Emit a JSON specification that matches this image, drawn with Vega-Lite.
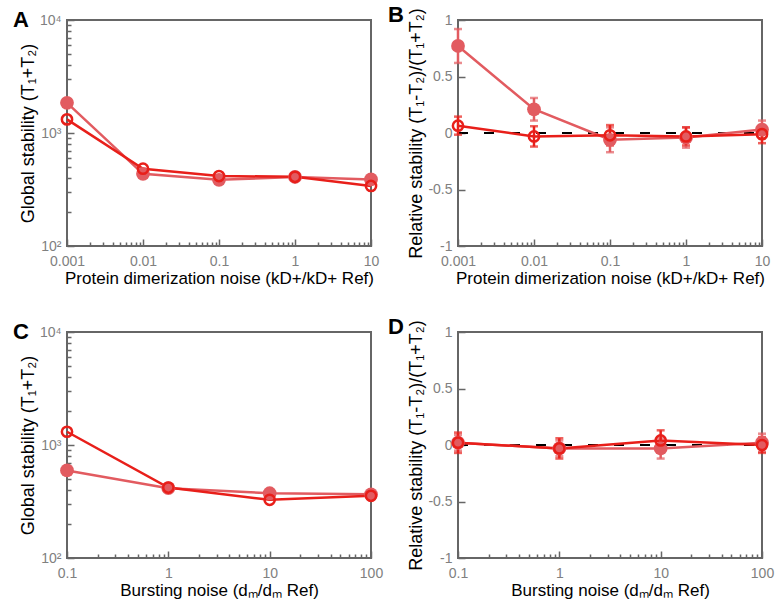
{
  "$schema": "https://vega.github.io/schema/vega-lite/v6.json",
  "background": "white",
  "padding": {"left": 12, "top": 2, "right": 0, "bottom": 0},
  "columns": 2,
  "spacing": {"row": 27, "column": 3},
  "datasets": {
    "A": [
      {"x": 0.001, "s": "filled", "y": 1850}, {"x": 0.01, "s": "filled", "y": 435}, {"x": 0.1, "s": "filled", "y": 385}, {"x": 1, "s": "filled", "y": 408}, {"x": 10, "s": "filled", "y": 388},
      {"x": 0.001, "s": "open", "y": 1320}, {"x": 0.01, "s": "open", "y": 483}, {"x": 0.1, "s": "open", "y": 416}, {"x": 1, "s": "open", "y": 410}, {"x": 10, "s": "open", "y": 340}
    ],
    "B": [
      {"x": 0.001, "s": "filled", "y": 0.77, "e": 0.15}, {"x": 0.01, "s": "filled", "y": 0.21, "e": 0.1}, {"x": 0.1, "s": "filled", "y": -0.06, "e": 0.11}, {"x": 1, "s": "filled", "y": -0.04, "e": 0.09}, {"x": 10, "s": "filled", "y": 0.03, "e": 0.08},
      {"x": 0.001, "s": "open", "y": 0.065, "e": 0.08}, {"x": 0.01, "s": "open", "y": -0.03, "e": 0.09}, {"x": 0.1, "s": "open", "y": -0.02, "e": 0.09}, {"x": 1, "s": "open", "y": -0.03, "e": 0.08}, {"x": 10, "s": "open", "y": -0.01, "e": 0.08}
    ],
    "C": [
      {"x": 0.1, "s": "filled", "y": 595}, {"x": 1, "s": "filled", "y": 415}, {"x": 10, "s": "filled", "y": 374}, {"x": 100, "s": "filled", "y": 366},
      {"x": 0.1, "s": "open", "y": 1310}, {"x": 1, "s": "open", "y": 420}, {"x": 10, "s": "open", "y": 327}, {"x": 100, "s": "open", "y": 355}
    ],
    "D": [
      {"x": 0.1, "s": "filled", "y": 0.02, "e": 0.07}, {"x": 1, "s": "filled", "y": -0.03, "e": 0.07}, {"x": 10, "s": "filled", "y": -0.03, "e": 0.09}, {"x": 100, "s": "filled", "y": 0.02, "e": 0.08},
      {"x": 0.1, "s": "open", "y": 0.02, "e": 0.09}, {"x": 1, "s": "open", "y": -0.03, "e": 0.09}, {"x": 10, "s": "open", "y": 0.04, "e": 0.09}, {"x": 100, "s": "open", "y": 0.0, "e": 0.07}
    ]
  },
  "concat": [
    {
      "width": 304, "height": 226,
      "title": {"text": "A", "anchor": "start", "frame": "group", "dx": -54, "offset": -19},
      "data": {"name": "A"},
      "resolve": {"axis": {"x": "independent", "y": "independent"}},
      "layer": [
        {
          "encoding": {
            "x": {"field": "x", "type": "quantitative", "scale": {"type": "log", "domain": [0.001, 10], "nice": false},
              "axis": {"orient": "bottom", "values": [0.001, 0.01, 0.1, 1, 10], "labelExpr": "'' + datum.value", "tickSize": -7, "labelPadding": 15, "title": "Protein dimerization noise (kD+/kD+ Ref)"}},
            "y": {"field": "y", "type": "quantitative", "scale": {"type": "log", "domain": [100, 10000], "nice": false},
              "axis": {"orient": "left", "values": [100, 1000, 10000], "labelExpr": "datum.value == 100 ? '10²' : datum.value == 1000 ? '10³' : '10⁴'", "tickSize": -7, "labelPadding": 13, "titlePadding": 2, "title": "Global stability (T₁+T₂)"}},
            "color": {"field": "s", "type": "nominal", "scale": {"domain": ["filled", "open"], "range": ["#e25b60", "#e81f1a"]}, "legend": null}
          },
          "layer": [
            {"mark": {"type": "line", "strokeWidth": 2.5}},
            {"transform": [{"filter": "datum.s == 'filled'"}], "mark": {"type": "point", "filled": true, "size": 190, "opacity": 1}},
            {"transform": [{"filter": "datum.s == 'open'"}], "mark": {"type": "point", "filled": false, "size": 105, "strokeWidth": 2.5, "opacity": 1}}
          ]
        },
        {
          "mark": {"type": "point", "opacity": 0},
          "encoding": {
            "x": {"field": "x", "type": "quantitative", "scale": {"type": "log", "domain": [0.001, 10], "nice": false},
              "axis": {"orient": "bottom", "values": [0.002, 0.003, 0.004, 0.005, 0.006, 0.007, 0.008, 0.009, 0.02, 0.03, 0.04, 0.05, 0.06, 0.07, 0.08, 0.09, 0.2, 0.3, 0.4, 0.5, 0.6, 0.7, 0.8, 0.9, 2, 3, 4, 5, 6, 7, 8, 9], "labels": false, "tickSize": -4, "title": null}},
            "y": {"field": "y", "type": "quantitative", "scale": {"type": "log", "domain": [100, 10000], "nice": false},
              "axis": {"orient": "left", "values": [200, 300, 400, 500, 600, 700, 800, 900, 2000, 3000, 4000, 5000, 6000, 7000, 8000, 9000], "labels": false, "tickSize": -4, "title": null}}
          }
        }
      ]
    },
    {
      "width": 304, "height": 226,
      "title": {"text": "B", "anchor": "start", "frame": "group", "dx": -70, "offset": -19},
      "data": {"name": "B"},
      "resolve": {"axis": {"x": "independent", "y": "independent"}},
      "layer": [
        {
          "encoding": {
            "x": {"field": "x", "type": "quantitative", "scale": {"type": "log", "domain": [0.001, 10], "nice": false},
              "axis": {"orient": "bottom", "values": [0.001, 0.01, 0.1, 1, 10], "labelExpr": "'' + datum.value", "tickSize": -7, "labelPadding": 15, "title": "Protein dimerization noise (kD+/kD+ Ref)"}},
            "y": {"field": "y", "type": "quantitative", "scale": {"domain": [-1, 1], "nice": false},
              "axis": {"orient": "left", "values": [-1, -0.5, 0, 0.5, 1], "labelExpr": "'' + datum.value", "tickSize": -7, "labelPadding": 13, "titlePadding": 2, "title": "Relative stability (T₁-T₂)/(T₁+T₂)"}},
            "color": {"field": "s", "type": "nominal", "scale": {"domain": ["filled", "open"], "range": ["#e25b60", "#e81f1a"]}, "legend": null}
          },
          "layer": [
            {"transform": [{"filter": "datum.s == 'open'"}], "mark": {"type": "line", "strokeWidth": 2, "strokeDash": [10, 16]},
              "encoding": {"y": {"datum": 0, "type": "quantitative", "scale": {"domain": [-1, 1], "nice": false},
                "axis": {"orient": "left", "values": [-1, -0.5, 0, 0.5, 1], "labelExpr": "'' + datum.value", "tickSize": -7, "labelPadding": 13, "titlePadding": 2, "title": "Relative stability (T₁-T₂)/(T₁+T₂)"}}, "color": {"value": "black"}}},
            {"mark": {"type": "line", "strokeWidth": 2.5}},
            {"mark": {"type": "errorbar", "ticks": {"size": 8}, "thickness": 2.5}, "encoding": {"yError": {"field": "e"}}},
            {"transform": [{"filter": "datum.s == 'filled'"}], "mark": {"type": "point", "filled": true, "size": 190, "opacity": 1}},
            {"transform": [{"filter": "datum.s == 'open'"}], "mark": {"type": "point", "filled": false, "size": 105, "strokeWidth": 2.5, "opacity": 1}}
          ]
        },
        {
          "mark": {"type": "point", "opacity": 0},
          "encoding": {
            "x": {"field": "x", "type": "quantitative", "scale": {"type": "log", "domain": [0.001, 10], "nice": false},
              "axis": {"orient": "bottom", "values": [0.002, 0.003, 0.004, 0.005, 0.006, 0.007, 0.008, 0.009, 0.02, 0.03, 0.04, 0.05, 0.06, 0.07, 0.08, 0.09, 0.2, 0.3, 0.4, 0.5, 0.6, 0.7, 0.8, 0.9, 2, 3, 4, 5, 6, 7, 8, 9], "labels": false, "tickSize": -4, "title": null}}
          }
        }
      ]
    },
    {
      "width": 304, "height": 226,
      "title": {"text": "C", "anchor": "start", "frame": "group", "dx": -54, "offset": -19},
      "data": {"name": "C"},
      "resolve": {"axis": {"x": "independent", "y": "independent"}},
      "layer": [
        {
          "encoding": {
            "x": {"field": "x", "type": "quantitative", "scale": {"type": "log", "domain": [0.1, 100], "nice": false},
              "axis": {"orient": "bottom", "values": [0.1, 1, 10, 100], "labelExpr": "'' + datum.value", "tickSize": -7, "labelPadding": 15, "title": "Bursting noise (dₘ/dₘ Ref)"}},
            "y": {"field": "y", "type": "quantitative", "scale": {"type": "log", "domain": [100, 10000], "nice": false},
              "axis": {"orient": "left", "values": [100, 1000, 10000], "labelExpr": "datum.value == 100 ? '10²' : datum.value == 1000 ? '10³' : '10⁴'", "tickSize": -7, "labelPadding": 13, "titlePadding": 2, "title": "Global stability (T₁+T₂)"}},
            "color": {"field": "s", "type": "nominal", "scale": {"domain": ["filled", "open"], "range": ["#e25b60", "#e81f1a"]}, "legend": null}
          },
          "layer": [
            {"mark": {"type": "line", "strokeWidth": 2.5}},
            {"transform": [{"filter": "datum.s == 'filled'"}], "mark": {"type": "point", "filled": true, "size": 190, "opacity": 1}},
            {"transform": [{"filter": "datum.s == 'open'"}], "mark": {"type": "point", "filled": false, "size": 105, "strokeWidth": 2.5, "opacity": 1}}
          ]
        },
        {
          "mark": {"type": "point", "opacity": 0},
          "encoding": {
            "x": {"field": "x", "type": "quantitative", "scale": {"type": "log", "domain": [0.1, 100], "nice": false},
              "axis": {"orient": "bottom", "values": [0.2, 0.3, 0.4, 0.5, 0.6, 0.7, 0.8, 0.9, 2, 3, 4, 5, 6, 7, 8, 9, 20, 30, 40, 50, 60, 70, 80, 90], "labels": false, "tickSize": -4, "title": null}},
            "y": {"field": "y", "type": "quantitative", "scale": {"type": "log", "domain": [100, 10000], "nice": false},
              "axis": {"orient": "left", "values": [200, 300, 400, 500, 600, 700, 800, 900, 2000, 3000, 4000, 5000, 6000, 7000, 8000, 9000], "labels": false, "tickSize": -4, "title": null}}
          }
        }
      ]
    },
    {
      "width": 304, "height": 226,
      "title": {"text": "D", "anchor": "start", "frame": "group", "dx": -70, "offset": -19},
      "data": {"name": "D"},
      "resolve": {"axis": {"x": "independent", "y": "independent"}},
      "layer": [
        {
          "encoding": {
            "x": {"field": "x", "type": "quantitative", "scale": {"type": "log", "domain": [0.1, 100], "nice": false},
              "axis": {"orient": "bottom", "values": [0.1, 1, 10, 100], "labelExpr": "'' + datum.value", "tickSize": -7, "labelPadding": 15, "title": "Bursting noise (dₘ/dₘ Ref)"}},
            "y": {"field": "y", "type": "quantitative", "scale": {"domain": [-1, 1], "nice": false},
              "axis": {"orient": "left", "values": [-1, -0.5, 0, 0.5, 1], "labelExpr": "'' + datum.value", "tickSize": -7, "labelPadding": 13, "titlePadding": 2, "title": "Relative stability (T₁-T₂)/(T₁+T₂)"}},
            "color": {"field": "s", "type": "nominal", "scale": {"domain": ["filled", "open"], "range": ["#e25b60", "#e81f1a"]}, "legend": null}
          },
          "layer": [
            {"transform": [{"filter": "datum.s == 'open'"}], "mark": {"type": "line", "strokeWidth": 2, "strokeDash": [10, 16]},
              "encoding": {"y": {"datum": 0, "type": "quantitative", "scale": {"domain": [-1, 1], "nice": false},
                "axis": {"orient": "left", "values": [-1, -0.5, 0, 0.5, 1], "labelExpr": "'' + datum.value", "tickSize": -7, "labelPadding": 13, "titlePadding": 2, "title": "Relative stability (T₁-T₂)/(T₁+T₂)"}}, "color": {"value": "black"}}},
            {"mark": {"type": "line", "strokeWidth": 2.5}},
            {"mark": {"type": "errorbar", "ticks": {"size": 8}, "thickness": 2.5}, "encoding": {"yError": {"field": "e"}}},
            {"transform": [{"filter": "datum.s == 'filled'"}], "mark": {"type": "point", "filled": true, "size": 190, "opacity": 1}},
            {"transform": [{"filter": "datum.s == 'open'"}], "mark": {"type": "point", "filled": false, "size": 105, "strokeWidth": 2.5, "opacity": 1}}
          ]
        },
        {
          "mark": {"type": "point", "opacity": 0},
          "encoding": {
            "x": {"field": "x", "type": "quantitative", "scale": {"type": "log", "domain": [0.1, 100], "nice": false},
              "axis": {"orient": "bottom", "values": [0.2, 0.3, 0.4, 0.5, 0.6, 0.7, 0.8, 0.9, 2, 3, 4, 5, 6, 7, 8, 9, 20, 30, 40, 50, 60, 70, 80, 90], "labels": false, "tickSize": -4, "title": null}}
          }
        }
      ]
    }
  ],
  "config": {
    "font": "Liberation Sans",
    "view": {"stroke": "#666666", "strokeWidth": 2},
    "title": {"fontSize": 22, "fontWeight": "bold", "font": "Liberation Sans", "color": "black", "baseline": "bottom"},
    "axis": {
      "labelFont": "Liberation Sans", "titleFont": "Liberation Sans",
      "labelFontSize": 14, "titleFontSize": 17,
      "labelColor": "#808080", "titleColor": "black", "titleFontWeight": "normal",
      "tickColor": "#666666", "tickWidth": 1.5, "labelFlush": false, "labelOverlap": false,
      "domain": false, "grid": false, "titlePadding": 2
    },
    "axisY": {"titleFontSize": 18}
  }
}
